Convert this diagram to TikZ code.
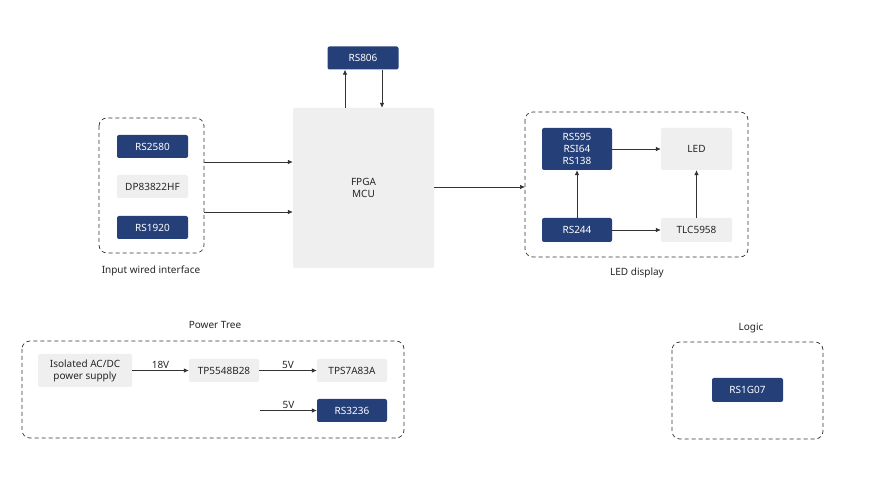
\documentclass[tikz,border=0pt]{standalone}
\usepackage{fontspec}
\setmainfont{Noto Sans}
\usetikzlibrary{arrows.meta}
\definecolor{navy}{HTML}{253F78}
\definecolor{lgray}{HTML}{EFEFEF}
\definecolor{lineclr}{HTML}{333333}
\begin{document}
\begin{tikzpicture}[x=1pt,y=-1pt,
  every node/.style={font=\fontsize{10}{12}\selectfont, inner sep=0pt},
  navybox/.style={fill=navy, text=white, rounded corners=2pt},
  graybox/.style={fill=lgray, text=black!85, rounded corners=2pt},
  group/.style={draw=black!80, dashed, dash pattern=on 4pt off 3pt, rounded corners=8pt, line width=0.7pt},
  conn/.style={draw=lineclr, line width=0.7pt, -{Latex[length=5pt,width=4.5pt]}},
  lbl/.style={text=black!85}]
\useasboundingbox (0,0) rectangle (871,486);
\fill[white] (0,0) rectangle (871,486);

% groups
\draw[group] (99,118) rectangle (204,253);
\draw[group] (525,112) rectangle (748,257);
\draw[group] (22,341) rectangle (404,438);
\draw[group] (672,342) rectangle (823,439);

% top section
\node[navybox, minimum width=71pt, minimum height=23pt] (rs806) at (363,58) {RS806};
\node[graybox, minimum width=141pt, minimum height=160pt, align=center] (fpga) at (363.5,188) {FPGA\\MCU};

\node[navybox, minimum width=71pt, minimum height=23pt] (rs2580) at (152.5,146.5) {RS2580};
\node[graybox, minimum width=71pt, minimum height=23pt] (dp) at (152.5,186.5) {DP83822HF};
\node[navybox, minimum width=71pt, minimum height=23pt] (rs1920) at (152.5,227.5) {RS1920};
\node[lbl] (inlbl) at (151,271) {Input wired interface};

\coordinate (in1) at (204,162);
\coordinate (in2) at (204,212);
\draw[conn] (in1) -- (fpga.west |- in1);
\draw[conn] (in2) -- (fpga.west |- in2);

\draw[conn] (fpga.north -| 345,0) -- (rs806.south -| 345,0);
\draw[conn] (rs806.south -| 382,0) -- (fpga.north -| 382,0);

% LED display
\coordinate (ledgrp) at (525,187);
\draw[conn] (fpga.east |- ledgrp) -- (ledgrp);
\node[navybox, minimum width=70pt, minimum height=42pt, align=center] (rs595) at (577,149) {RS595\\RSI64\\RS138};
\node[graybox, minimum width=71pt, minimum height=42pt] (led) at (696.5,149) {LED};
\node[navybox, minimum width=70pt, minimum height=24pt] (rs244) at (577,230) {RS244};
\node[graybox, minimum width=71pt, minimum height=24pt] (tlc) at (696.5,230) {TLC5958};
\node[lbl] (ledlbl) at (637,273) {LED display};
\draw[conn] (rs595) -- (led);
\draw[conn] (rs244) -- (tlc);
\draw[conn] (rs244) -- (rs595);
\draw[conn] (tlc) -- (led);

% Power tree
\node[lbl] (ptlbl) at (215,325) {Power Tree};
\node[graybox, minimum width=94pt, minimum height=33pt, align=center] (iso) at (85,370.5) {Isolated AC/DC\\power supply};
\node[graybox, minimum width=70pt, minimum height=23pt] (tp) at (224,370.5) {TP5548B28};
\node[graybox, minimum width=70pt, minimum height=23pt] (tps) at (352,370.5) {TPS7A83A};
\node[navybox, minimum width=70pt, minimum height=23pt] (rs3236) at (352,410.5) {RS3236};
\draw[conn] (iso) -- node[lbl, above=2pt] (v18) {18V} (tp);
\draw[conn] (tp) -- node[lbl, above=2pt] (v5a) {5V} (tps);
\coordinate (p5) at (260,410.5);
\draw[conn] (p5) -- node[lbl, above=2pt] (v5b) {5V} (rs3236);

% Logic
\node[lbl] (lglbl) at (751,328) {Logic};
\node[navybox, minimum width=71pt, minimum height=24pt] (rs1g07) at (747.5,390) {RS1G07};
\end{tikzpicture}
\end{document}
